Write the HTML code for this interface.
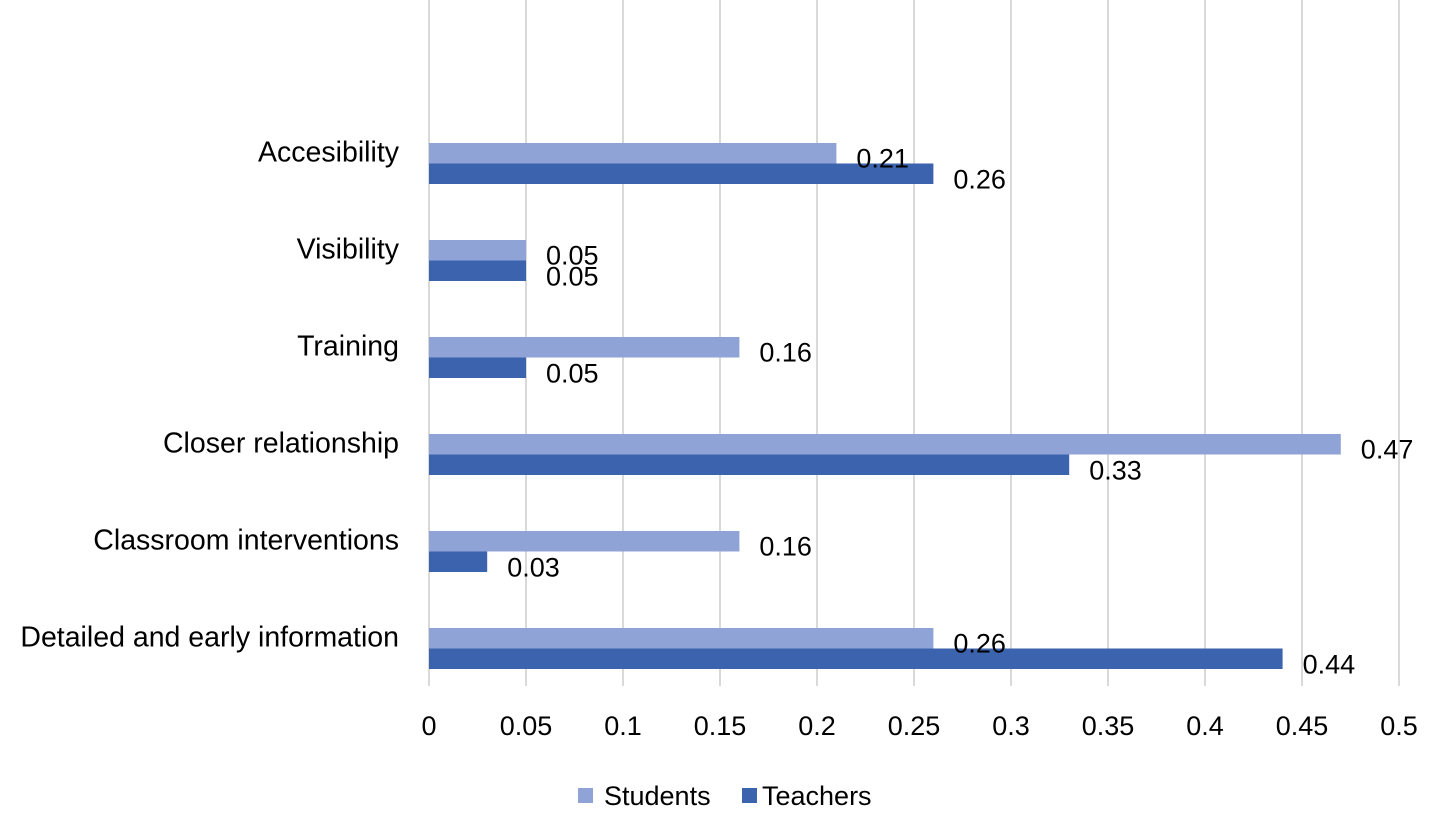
<!DOCTYPE html>
<html><head><meta charset="utf-8"><style>
html,body{margin:0;padding:0;background:#fff;}
svg{display:block;font-family:"Liberation Sans",Arial,sans-serif;}
</style></head><body>
<svg id="chart" width="1430" height="815"></svg>
<script>
const categories=["Detailed and early information","Classroom interventions","Closer relationship","Training","Visibility","Accesibility"];
const students=[0.26,0.16,0.47,0.16,0.05,0.21];
const teachers=[0.44,0.03,0.33,0.05,0.05,0.26];
const ticks=[0,0.05,0.1,0.15,0.2,0.25,0.3,0.35,0.4,0.45,0.5];
const tickLabels=["0","0.05","0.1","0.15","0.2","0.25","0.3","0.35","0.4","0.45","0.5"];
const NS="http://www.w3.org/2000/svg";
const svg=document.getElementById('chart');
const x0=429,x1=1399,xmax=0.5;
const xs=v=>x0+(v/xmax)*(x1-x0);
const yc=i=>648.5-i*97;
const FS=27;
function mk(t,a,p){const e=document.createElementNS(NS,t);for(const k in a)e.setAttribute(k,a[k]);(p||svg).appendChild(e);return e;}
ticks.forEach((t,i)=>{
  const g=mk('line',{x1:xs(t),x2:xs(t),y1:0,y2:686,stroke:'#d9d9d9','stroke-width':2});
  
  
  const l=mk('text',{x:xs(t),y:735,'text-anchor':'middle','font-size':FS,fill:'#000'});
  l.textContent=tickLabels[i];
  
  
});
categories.forEach((c,i)=>{
  const y=yc(i);
  const t=mk('text',{x:399,y:y-2,'text-anchor':'end','font-size':28.5,fill:'#000'});
  t.textContent=c;
  
  
  const b1=mk('rect',{x:x0,y:y-20.5,width:xs(students[i])-x0,height:20.5,fill:'#8FA3D6'});
  
  
  const b2=mk('rect',{x:x0,y:y,width:xs(teachers[i])-x0,height:20.5,fill:'#3B63AE'});
  
  
  const l1=mk('text',{x:xs(students[i])+20,y:y+4,'font-size':FS,fill:'#000'});
  l1.textContent=students[i].toFixed(2);
  
  
  const l2=mk('text',{x:xs(teachers[i])+20,y:y+25,'font-size':FS,fill:'#000'});
  l2.textContent=teachers[i].toFixed(2);
  
  
});
const ls=mk('rect',{x:578,y:788,width:15,height:15,fill:'#8FA3D6'});


const lt=mk('text',{x:604,y:805,'font-size':FS,fill:'#000'});lt.textContent='Students';


const ls2=mk('rect',{x:742,y:788,width:15,height:15,fill:'#3B63AE'});


const lt2=mk('text',{x:762,y:805,'font-size':FS,fill:'#000'});lt2.textContent='Teachers';


</script>
</body></html>
